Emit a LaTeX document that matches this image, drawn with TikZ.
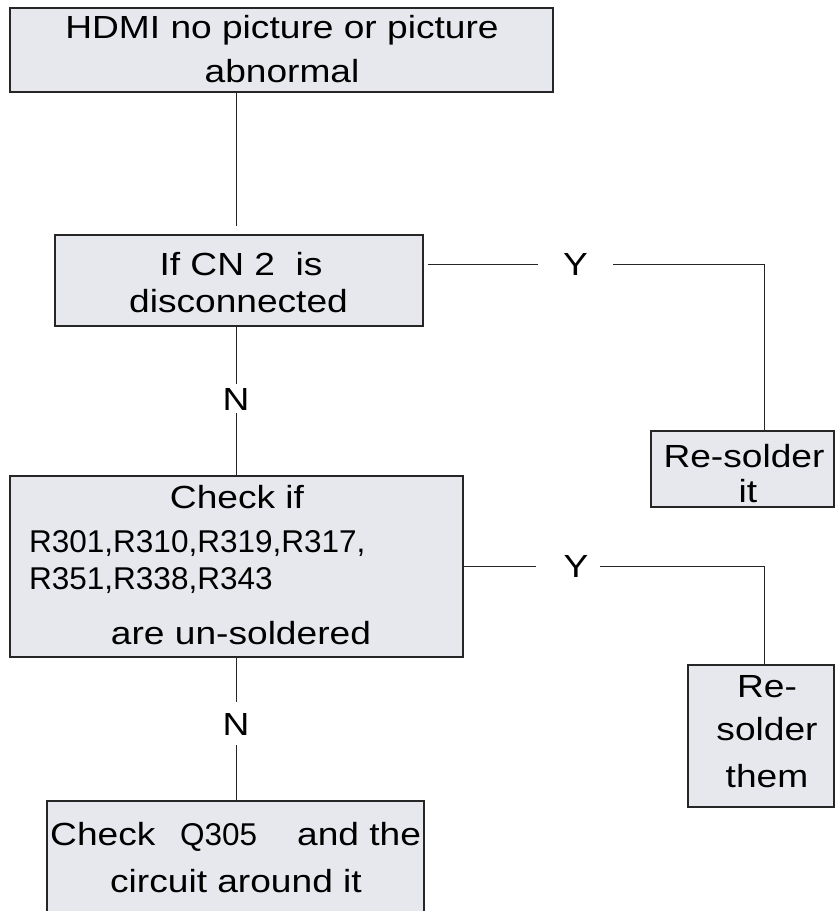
\documentclass[tikz,border=0pt]{standalone}
\usepackage{fontspec}
\setmainfont{Liberation Sans}
\newfontfamily\widefont[FakeStretch=1.16]{Liberation Sans}
\usetikzlibrary{calc}
\definecolor{boxfill}{HTML}{E6E8ED}
\definecolor{linecol}{HTML}{262626}
\tikzset{
  box/.style={draw=linecol, line width=1.1pt, fill=boxfill, inner sep=0pt},
  conn/.style={draw=linecol, line width=1pt},
  big/.style={font=\fontsize{32}{38}\widefont, inner sep=0pt, anchor=base},
  small/.style={font=\fontsize{31.5}{36}\selectfont, inner sep=0pt, anchor=base},
  yn/.style={font=\fontsize{32}{38}\widefont, inner sep=0pt, anchor=base},
}
\begin{document}
\begin{tikzpicture}[x=1pt, y=-1pt]
\useasboundingbox (0,0) rectangle (835,911);
\clip (0,0) rectangle (835,911);
\fill[white] (0,0) rectangle (835,911);

% boxes
\node[box, minimum width=543, minimum height=84] (top) at (281.5,50) {};
\node[box, minimum width=368, minimum height=91] (cn2) at (239,280.5) {};
\node[box, minimum width=453, minimum height=181] (chk) at (236.5,566.5) {};
\node[box, minimum width=377, minimum height=133] (q) at (235.5,867.5) {};
\node[box, minimum width=183, minimum height=76] (ri) at (742.5,469) {};
\node[box, minimum width=146, minimum height=142] (rt) at (761,736) {};

% texts
\node[big] (t1) at (282,38) {HDMI no picture or picture};
\node[big] (t2) at (282,82) {abnormal};
\node[big] (c1) at (241,275) {If CN 2\ \ is};
\node[big] (c2) at (238.5,312) {disconnected};
\node[big] (k1) at (237,508) {Check if};
\node[small, anchor=base west] (k2) at (29,552) {R301,R310,R319,R317,};
\node[small, anchor=base west] (k3) at (29,589) {R351,R338,R343};
\node[big] (k4) at (241,644) {are un-soldered};
\node[big, anchor=base west] (q1) at (50,845) {Check};
\node[small, anchor=base west] (q2) at (180,845) {Q305};
\node[big, anchor=base west] (q3) at (297,845) {and the};
\node[big] (q4) at (236,892) {circuit around it};
\node[big] (r1) at (744,467) {Re-solder};
\node[big] (r2) at (748,502) {it};
\node[big] (s1) at (767,697) {Re-};
\node[big] (s2) at (767,740) {solder};
\node[big] (s3) at (767,787) {them};

% labels
\node[yn] (y1) at (575.5,275) {Y};
\node[yn] (y2) at (576,577) {Y};
\node[yn] (n1) at (236,410) {N};
\node[yn] (n2) at (236,735) {N};

% connectors
\coordinate (sp) at (236,0);
\coordinate (e1) at (764,264);
\coordinate (e2) at (764,566);
\draw[conn] (top.south -| sp) -- ([yshift=8pt]cn2.north -| sp);
\draw[conn] (cn2.south -| sp) -- ([yshift=4pt]n1.north);
\draw[conn] ([yshift=-3pt]n1.south) -- (chk.north -| sp);
\draw[conn] (chk.south -| sp) -- ([yshift=11pt]n2.north);
\draw[conn] ([yshift=-10pt]n2.south) -- (q.north -| sp);
\draw[conn] ([xshift=4pt]cn2.east |- e1) -- ([xshift=-25pt]y1.west |- e1);
\draw[conn] ([xshift=25pt]y1.east |- e1) -- (e1) -- (ri.north -| e1);
\draw[conn] (chk.east |- e2) -- ([xshift=-27pt]y2.west |- e2);
\draw[conn] ([xshift=11pt]y2.east |- e2) -- (e2) -- (rt.north -| e2);
\end{tikzpicture}
\end{document}
